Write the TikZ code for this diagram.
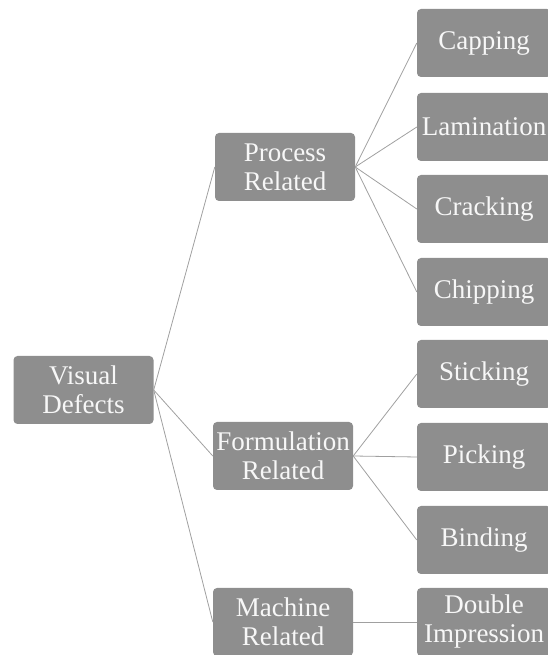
\documentclass[tikz,border=0pt]{standalone}
\usepackage{fontspec}
\setmainfont{Liberation Serif}
\usepackage{xcolor}
\usepackage{tikz}
\usetikzlibrary{positioning}
\definecolor{boxgray}{HTML}{8E8E8E}
\definecolor{linkgray}{HTML}{A0A0A0}

\begin{document}
\begin{tikzpicture}[x=1pt, y=1pt,
    box/.style={fill=boxgray, rounded corners=4pt, text=white!94!gray,
      align=center, font=\fontsize{27}{29}\selectfont,
      minimum height=68pt, inner sep=0pt},
    catbox/.style={box, minimum width=140pt},
    leafbox/.style={box, minimum width=134pt},
    link/.style={draw=linkgray, line width=0.8pt}]
      \useasboundingbox (0,0) rectangle (548,655);

      % root and the three categories
      \node[catbox] (vis) at (83.5, 265) {Visual\\Defects};
      \node[catbox] (proc) at (285, 488) {Process\\Related};
      \node[catbox] (form) at (283, 199) {Formulation\\Related};
      \node[catbox] (mach) at (283, 33) {Machine\\Related};

      % defects per category
      \node[leafbox] (capp) at (484, 612) {Capping};
      \node[leafbox] (lami) at (484, 528) {Lamination};
      \node[leafbox] (crack) at (484, 446) {Cracking};
      \node[leafbox] (chip) at (484, 363) {Chipping};
      \node[leafbox] (stick) at (484, 281) {Sticking};
      \node[leafbox] (pick) at (484, 198) {Picking};
      \node[leafbox] (bind) at (484, 115) {Binding};
      \node[leafbox] (dbl) at (484, 33) {Double\\Impression};

      \foreach \c in {proc, form, mach}
        \draw[link] (vis.east) -- (\c.west);
      \foreach \c in {capp, lami, crack, chip}
        \draw[link] (proc.east) -- (\c.west);
      \foreach \c in {stick, pick, bind}
        \draw[link] (form.east) -- (\c.west);
      \draw[link] (mach.east) -- (dbl.west);
    \end{tikzpicture}
\end{document}
